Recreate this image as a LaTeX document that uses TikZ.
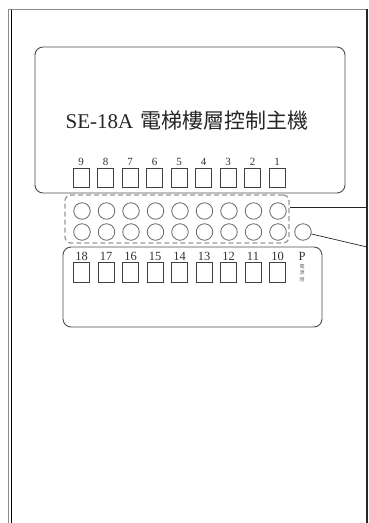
\documentclass[tikz,border=0pt]{standalone}
\usepackage{fontspec}
\setmainfont{Liberation Serif}
\newfontfamily\cjk{Noto Sans CJK TC}
\begin{document}
\begin{tikzpicture}[x=1pt,y=-1pt,
  panel/.style={draw=black!70, line width=0.9pt, rounded corners=8pt, inner sep=0pt},
  keybox/.style={draw=black!75, line width=0.8pt, minimum width=16pt, minimum height=19.5pt, inner sep=0pt},
  lamp/.style={draw=black!60, line width=0.8pt, circle, minimum size=16.5pt, inner sep=0pt},
  numlab/.style={font=\fontsize{11}{11}\selectfont, inner sep=0pt, text=black!80},
  dashbox/.style={draw=black!40, line width=1.3pt, dash pattern=on 5pt off 3pt, rounded corners=6pt, inner sep=0pt},
  lead/.style={draw=black!85, line width=0.7pt}]
\useasboundingbox (0,0) rectangle (369,523);
% outer frame
\draw[black!45, line width=1pt] (8,523) -- (8,9) -- (367,9);
\draw[black, line width=1.1pt] (11.5,523) -- (11.5,10);
\draw[black!85, line width=1.1pt] (367,9) -- (367,523);
% upper panel
\node[panel, minimum width=310pt, minimum height=146pt] (top) at (190,120) {};
\node[inner sep=0pt, font=\fontsize{21}{22}\selectfont, text=black!85] (title) at (187,120) {SE-18A\hspace{7pt}{\cjk 電梯樓層控制主機}};
\foreach \n [count=\i] in {9,8,7,6,5,4,3,2,1} {
  \node[numlab] (ua\n) at ({81+(\i-1)*24.5},161.5) {\n};
  \node[keybox] (uk\n) at ({81+(\i-1)*24.5},178) {};
}
% lamps
\node[dashbox, minimum width=224pt, minimum height=48pt] (dash) at (177,219) {};
\foreach \i in {1,...,9} {
  \node[lamp] (la\i) at ({82+(\i-1)*24.5},211) {};
  \node[lamp] (lb\i) at ({82+(\i-1)*24.5},232) {};
}
\node[lamp] (pc) at (303,232) {};
% lower panel
\node[panel, minimum width=259pt, minimum height=80pt] (bot) at (192.5,287) {};
\foreach \n [count=\i] in {18,17,16,15,14,13,12,11,10} {
  \node[numlab, font=\fontsize{12.5}{12.5}\selectfont] (la\n) at ({81.5+(\i-1)*24.5},256) {\n};
  \node[keybox] (lk\n) at ({81.5+(\i-1)*24.5},272.5) {};
}
\node[numlab, font=\fontsize{12.5}{12.5}\selectfont] (plab) at (302,256) {P};
\node[inner sep=0pt, font=\cjk\fontsize{5}{6.5}\selectfont, text=black!60, align=center] (psub) at (302,273) {電\\源\\燈};
% leaders
\coordinate (r1) at (367,207);
\coordinate (r2) at (367,247);
\draw[lead] (r1 -| dash.east) -- (r1);
\draw[lead] (pc) -- (r2);
\end{tikzpicture}
\end{document}
